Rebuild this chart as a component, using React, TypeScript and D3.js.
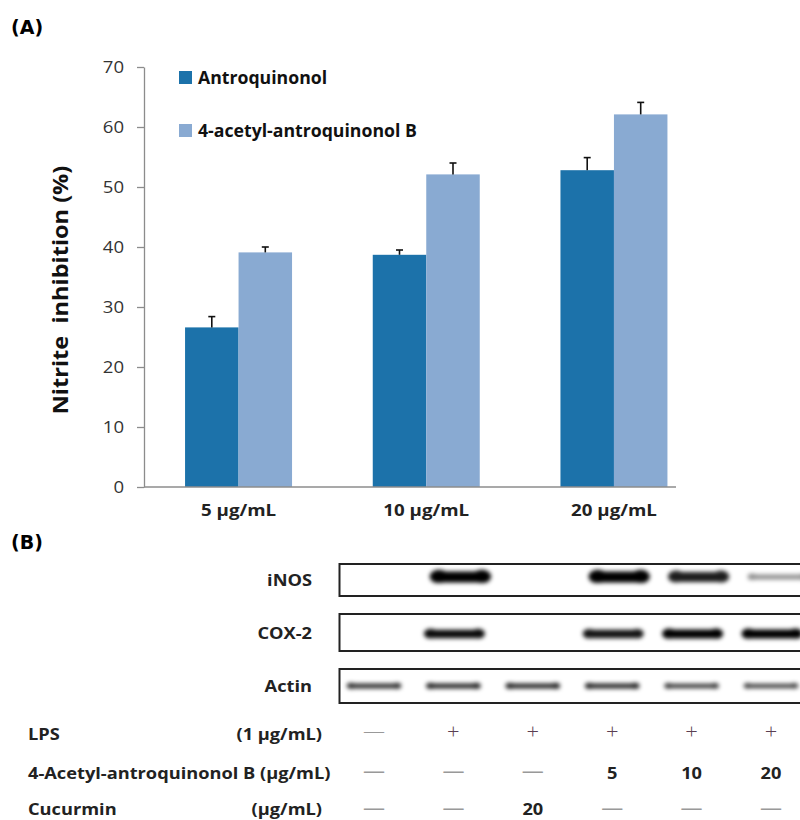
import React, { useEffect, useRef } from 'react';
import * as d3 from 'd3';

// panel A data
const concentrations = ['5 µg/mL', '10 µg/mL', '20 µg/mL'];
const seriesNames = ['Antroquinonol', '4-acetyl-antroquinonol B'];
const antroquinonol = [26.6, 38.7, 52.8];
const antroquinonolErr = [1.8, 0.8, 2.1];
const acetylB = [39.1, 52.1, 62.1];
const acetylBErr = [0.9, 1.9, 2.0];
const yTicks = [0, 10, 20, 30, 40, 50, 60, 70];

// panel B data (band intensity per lane, 0 = no band)
const lanes = [0, 1, 2, 3, 4, 5];
const blotNames = ['iNOS', 'COX-2', 'Actin'];
const iNOS = [0, 1, 0, 1, 0.85, 0.25];
const cox2 = [0, 0.95, 0, 0.9, 1, 1];
const actin = [0.75, 0.8, 0.8, 0.8, 0.7, 0.65];
const lps = [false, true, true, true, true, true];
const acetylDose = [null, null, null, 5, 10, 20];
const curcuminDose = [null, null, 20, null, null, null];

const colors = ['#1c72aa', '#89aad2'];
const font = '"Open Sans", Lato, sans-serif';

const margin = { left: 144, top: 67, bottom: 487, right: 676 };

// the source figure is stretched sideways, so text gets a horizontal scale
const T = ({
  x,
  y,
  sx = 1.14,
  anchor = 'start',
  style,
  children,
}: {
  x: number;
  y: number;
  sx?: number;
  anchor?: string;
  style: React.CSSProperties;
  children: React.ReactNode;
}) => (
  <text transform={`translate(${x},${y}) scale(${sx},1)`} textAnchor={anchor} style={style}>
    {children}
  </text>
);

export default function App() {
  const yAxisRef = useRef<SVGGElement>(null);

  const y = d3.scaleLinear().domain([0, 70]).range([margin.bottom, margin.top]);
  const x0 = d3
    .scaleBand()
    .domain(concentrations)
    .range([144.7, 707.8])
    .paddingInner(0.43)
    .paddingOuter(0.215);
  const x1 = d3.scaleBand().domain(seriesNames).range([0, x0.bandwidth()]);

  const lane = d3.scalePoint<number>().domain(lanes).range([374, 771]);

  useEffect(() => {
    if (!yAxisRef.current) return;
    const g = d3.select(yAxisRef.current);
    g.selectAll('*').remove();
    g.call(
      d3
        .axisLeft(y)
        .tickValues(yTicks)
        .tickSizeOuter(0)
        .tickSizeInner(7)
        .tickPadding(14)
    );
    g.select('.domain').attr('stroke', '#8c8c8c').attr('stroke-width', 1.3);
    g.selectAll('.tick line').attr('stroke', '#8c8c8c').attr('stroke-width', 1.3);
    g.selectAll('.tick text')
      .attr('x', 0)
      .attr('transform', 'translate(-20,0) scale(1.16,1)')
      .attr('fill', '#333')
      .style('font-family', font)
      .style('font-size', '16px');
  }, []);

  const series = [
    { name: seriesNames[0], values: antroquinonol, errs: antroquinonolErr },
    { name: seriesNames[1], values: acetylB, errs: acetylBErr },
  ];

  const blots = [
    { name: blotNames[0], data: iNOS, top: 564, h: 32, cy: 577, bh: 11, w: 60, dx: 7, bulge: 1.2 },
    { name: blotNames[1], data: cox2, top: 614, h: 37, cy: 634, bh: 9, w: 60, dx: 1, bulge: 1.1 },
    { name: blotNames[2], data: actin, top: 669, h: 34, cy: 686, bh: 6, w: 54, dx: 0, bulge: 1.2 },
  ];

  const labelStyle: React.CSSProperties = {
    fontFamily: font,
    fontWeight: 700,
    fontSize: 16,
    fill: '#222',
  };
  const markStyle: React.CSSProperties = { fontFamily: font, fontSize: 22 };

  return (
    <div style={{ position: 'absolute', left: 0, top: 0 }}>
      <svg width={800} height={820} style={{ display: 'block', background: '#fff' }}>
        <defs>
          <filter id="blur" x="-20%" y="-100%" width="140%" height="300%">
            <feGaussianBlur stdDeviation="2" />
          </filter>
        </defs>

        {/* panel labels */}
        <text x={11} y={34} style={{ fontFamily: '"DejaVu Sans"', fontWeight: 700, fontSize: 19 }}>
          (A)
        </text>
        <text x={11} y={549} style={{ fontFamily: '"DejaVu Sans"', fontWeight: 700, fontSize: 19 }}>
          (B)
        </text>

        {/* bars */}
        {series.map((s, si) =>
          s.values.map((v, i) => (
            <rect
              key={`${si}-${i}`}
              x={(x0(concentrations[i]) ?? 0) + (x1(s.name) ?? 0)}
              y={y(v)}
              width={x1.bandwidth()}
              height={y(0) - y(v)}
              fill={colors[si]}
            />
          ))
        )}

        {/* error bars, upper half only */}
        {series.map((s, si) =>
          s.values.map((v, i) => {
            const cx = (x0(concentrations[i]) ?? 0) + (x1(s.name) ?? 0) + x1.bandwidth() / 2;
            const top = y(v + s.errs[i]);
            return (
              <g key={`e${si}-${i}`} stroke="#111" strokeWidth={1.6}>
                <line x1={cx} x2={cx} y1={y(v)} y2={top} />
                <line x1={cx - 3.5} x2={cx + 3.5} y1={top} y2={top} />
              </g>
            );
          })
        )}

        {/* axes */}
        <g ref={yAxisRef} transform={`translate(${margin.left},0)`} />
        <line
          x1={margin.left}
          x2={margin.right}
          y1={y(0)}
          y2={y(0)}
          stroke="#8c8c8c"
          strokeWidth={1.3}
        />
        {concentrations.map((c) => (
          <T key={c} x={(x0(c) ?? 0) + x0.bandwidth() / 2} y={516} sx={1.17} anchor="middle" style={labelStyle}>
            {c}
          </T>
        ))}
        <text
          transform={`translate(68, 290) rotate(-90) scale(1.12,1)`}
          textAnchor="middle"
          style={{ fontFamily: font, fontWeight: 700, fontSize: 21, fill: '#111', whiteSpace: 'pre' }}
        >
          {'Nitrite  inhibition (%)'}
        </text>

        {/* legend */}
        {seriesNames.map((n, i) => (
          <g key={n} transform={`translate(179, ${71 + i * 53})`}>
            <rect width={13} height={13} fill={colors[i]} />
            <T x={19} y={13} sx={1.04} style={{ ...labelStyle, fontSize: 17, fill: '#111' }}>
              {n}
            </T>
          </g>
        ))}

        {/* blots */}
        {blots.map((b) => (
          <g key={b.name}>
            <T x={312} y={b.top + b.h / 2 + 6} anchor="end" style={labelStyle}>
              {b.name}
            </T>
            <rect
              x={339.5}
              y={b.top}
              width={500}
              height={b.h}
              fill="#fff"
              stroke="#222"
              strokeWidth={2}
            />
            <g filter="url(#blur)">
              {b.data.map((v, i) => {
                if (v <= 0) return null;
                const bh = b.bh * (0.3 + 0.7 * v);
                const cx = (lane(i) ?? 0) + b.dx;
                const er = (bh * b.bulge) / 2;
                return (
                  <g key={i} fill="#000" opacity={0.25 + 0.75 * v}>
                    <rect x={cx - b.w / 2} y={b.cy - bh / 2} width={b.w} height={bh} rx={bh / 2} />
                    <ellipse cx={cx - b.w / 2 + er * 1.3} cy={b.cy - bh * 0.05} rx={er * 1.4} ry={er} />
                    <ellipse cx={cx + b.w / 2 - er * 1.3} cy={b.cy - bh * 0.05} rx={er * 1.4} ry={er} />
                  </g>
                );
              })}
            </g>
          </g>
        ))}

        {/* treatment rows */}
        <T x={28} y={740} style={labelStyle}>LPS</T>
        <T x={322} y={740} anchor="end" style={labelStyle}>(1 µg/mL)</T>
        <T x={28} y={779} style={labelStyle}>4-Acetyl-antroquinonol B (µg/mL)</T>
        <T x={28} y={815} style={labelStyle}>Cucurmin</T>
        <T x={322} y={815} anchor="end" style={labelStyle}>(µg/mL)</T>

        {lps.map((v, i) => (
          <T
            key={`l${i}`}
            x={lane(i) ?? 0}
            y={739}
            sx={1}
            anchor="middle"
            style={{ ...markStyle, fontWeight: 300, fill: v ? '#5b3f52' : '#999' }}
          >
            {v ? '+' : '—'}
          </T>
        ))}
        {[acetylDose, curcuminDose].map((row, ri) =>
          row.map((v, i) =>
            v === null ? (
              <T
                key={`d${ri}-${i}`}
                x={lane(i) ?? 0}
                y={ri === 0 ? 778 : 815}
                sx={1}
                anchor="middle"
                style={{ ...markStyle, fill: '#999' }}
              >
                —
              </T>
            ) : (
              <T key={`d${ri}-${i}`} x={lane(i) ?? 0} y={ri === 0 ? 779 : 815} anchor="middle" style={labelStyle}>
                {v}
              </T>
            )
          )
        )}
      </svg>
    </div>
  );
}
